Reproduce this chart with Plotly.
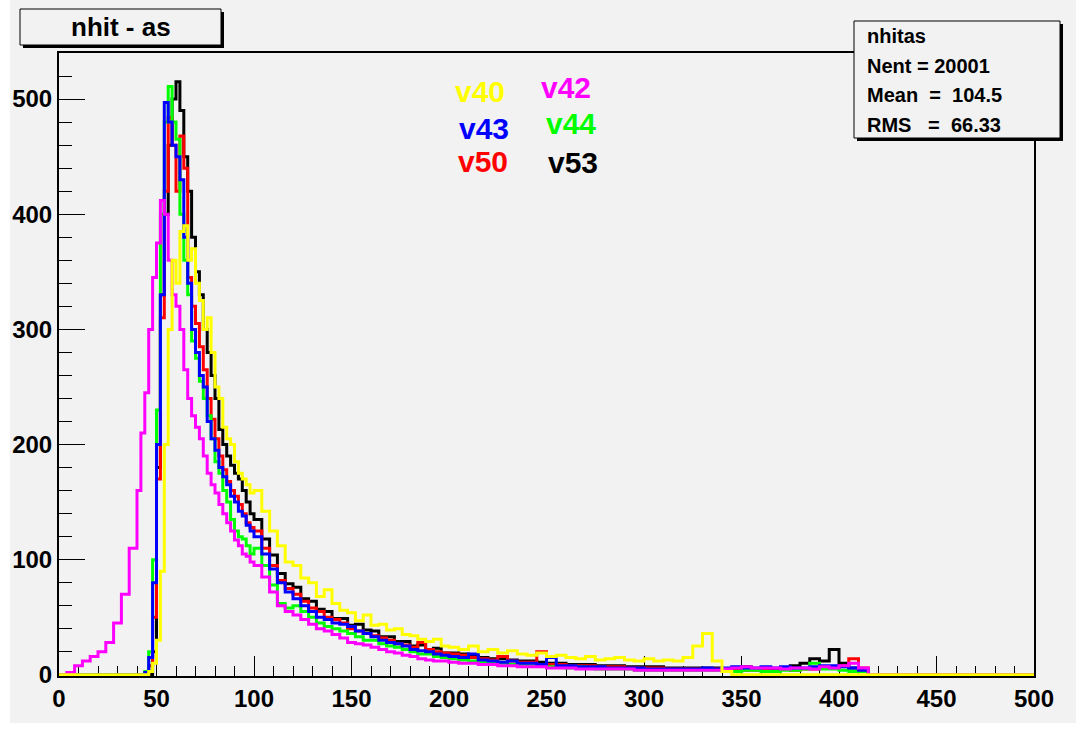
import numpy as np
import plotly.graph_objects as go

# ---------------- data ----------------
# bin edges (variable width histogram binning, x in nhit units)
edges = np.concatenate([
    np.arange(0, 40, 4),     # 10 bins
    np.arange(40, 100, 2),   # 30 bins
    np.arange(100, 200, 4),  # 25 bins
    np.arange(200, 420, 5),  # 44 bins
    [420, 500],              # last empty bin
])

v40 = ([0] * 10
       + [0, 0, 0, 3, 10, 30, 90, 200, 300, 360, 340, 385, 390, 360, 370, 340, 325, 300, 310, 280,
          250, 240, 215, 205, 200, 185, 175, 170, 165, 158]
       + [160, 142, 125, 112, 98, 95, 84, 80, 68, 74, 62, 56, 54, 47, 52, 43, 44, 39, 40, 35,
          34, 31, 29, 31, 25]
       + [24, 22, 25, 20, 22, 19, 21, 18, 17, 19, 16, 17, 15, 14, 16, 13, 14, 15, 13, 12,
          14, 12, 13, 12, 15, 25, 36, 12, 3] + [0] * 15
       + [0])

v42 = ([0, 2, 8, 12, 16, 20, 28, 45, 70, 110]
       + [160, 210, 245, 300, 345, 375, 412, 400, 360, 330, 320, 300, 265, 240, 225, 215, 205, 190, 175, 165,
          158, 148, 140, 132, 125, 117, 112, 105, 103, 98]
       + [95, 85, 72, 60, 55, 52, 48, 44, 40, 38, 35, 32, 28, 27, 26, 24, 22, 20, 19, 17,
          16, 14, 13, 12, 12]
       + [11, 10, 10, 9, 9, 8, 8, 7, 7, 7, 6, 6, 6, 5, 5, 5, 5, 5, 5, 4,
          4, 4, 4, 4, 4, 4, 4, 4, 5, 6, 7, 6, 6, 6, 5, 6, 6, 5, 7, 6,
          8, 10, 6, 0]
       + [0])

v43 = ([0] * 10
       + [0, 0, 2, 15, 80, 200, 330, 497, 480, 460, 450, 430, 380, 340, 300, 280, 260, 250, 220, 205,
          195, 180, 172, 165, 155, 150, 142, 138, 130, 125]
       + [120, 105, 92, 80, 72, 66, 60, 55, 50, 48, 45, 44, 42, 38, 36, 33, 30, 28, 27, 25,
          22, 21, 20, 18, 17]
       + [16, 15, 18, 13, 12, 11, 12, 10, 10, 9, 15, 8, 8, 7, 7, 7, 6, 6, 6, 6,
          5, 5, 5, 5, 5, 5, 6, 5, 6, 7, 6, 6, 7, 6, 7, 6, 6, 7, 8, 8,
          7, 6, 4, 0]
       + [0])

v44 = ([0] * 10
       + [0, 0, 3, 20, 100, 230, 400, 480, 511, 480, 465, 400, 360, 330, 290, 275, 255, 240, 225, 205,
          185, 175, 160, 150, 135, 125, 120, 118, 112, 105]
       + [110, 95, 78, 62, 58, 60, 55, 50, 45, 42, 40, 38, 36, 33, 30, 30, 27, 25, 24, 22,
          20, 18, 18, 16, 15]
       + [14, 13, 12, 11, 10, 10, 9, 9, 8, 8, 7, 7, 6, 7, 6, 5, 5, 5, 5, 4,
          4, 4, 4, 4, 4, 4, 4, 4, 4, 3, 4, 4, 3, 3, 4, 4, 5, 10, 5, 5,
          4, 3, 3, 0]
       + [0])

v50 = ([0] * 10
       + [0, 0, 1, 8, 50, 170, 310, 420, 484, 460, 420, 468, 440, 345, 320, 305, 285, 265, 240, 222,
          205, 190, 178, 168, 160, 155, 148, 140, 132, 128]
       + [125, 110, 95, 82, 75, 70, 64, 58, 55, 50, 48, 45, 40, 38, 36, 34, 32, 30, 27, 26,
          24, 28, 22, 20, 19]
       + [18, 17, 15, 14, 13, 16, 12, 11, 11, 20, 9, 9, 8, 8, 8, 7, 7, 7, 6, 6,
          6, 6, 5, 5, 5, 5, 5, 5, 4, 4, 4, 4, 4, 4, 5, 4, 5, 5, 6, 6,
          8, 14, 6, 0]
       + [0])

v53 = ([0] * 10
       + [0, 0, 0, 0, 20, 180, 330, 400, 460, 500, 515, 490, 450, 420, 380, 350, 330, 300, 280, 260,
          240, 213, 200, 190, 182, 175, 170, 160, 150, 140]
       + [135, 118, 104, 88, 79, 76, 66, 64, 57, 55, 49, 49, 43, 44, 39, 38, 33, 33, 29, 29,
          25, 26, 21, 23, 19]
       + [19, 18, 16, 15, 14, 14, 13, 12, 12, 11, 10, 10, 9, 9, 9, 8, 8, 8, 7, 7,
          7, 7, 6, 6, 6, 6, 6, 6, 5, 5, 7, 5, 6, 5, 6, 8, 10, 14, 12, 22,
          10, 6, 4, 0]
       + [0])

series_names = ["v53", "v50", "v44", "v43", "v42", "v40"]   # drawing order (last on top)
series_vals = [v53, v50, v44, v43, v42, v40]

title_text = "nhit - as"
stats_lines = ["nhitas", "Nent = 20001",
               "Mean\u00a0\u00a0=\u00a0\u00a0104.5",
               "RMS\u00a0\u00a0\u00a0=\u00a0\u00a066.33"]

# ---------------- style ----------------
W, H = 1076, 735
PL, PR, PT, PB = 59, 1034, 53, 676   # plot-area pixel box
BG = "#f2f2f2"
FONT = "Liberation Sans"
colors = {"v40": "#ffff00", "v42": "#ff00ff", "v43": "#0000ff",
          "v44": "#00ff00", "v50": "#ff0000", "v53": "#000000"}


def fx(p):
    return (p - PL) / (PR - PL)


def fy(p):
    return (PB - p) / (PB - PT)


fig = go.Figure()
for name, vals in zip(series_names, series_vals):
    assert len(vals) == len(edges) - 1, (name, len(vals))
    fig.add_trace(go.Scatter(
        x=list(edges), y=list(vals) + [vals[-1]],
        mode="lines", line=dict(color=colors[name], width=3, shape="hv"),
        name=name, hoverinfo="skip"))

shapes = [
    # canvas (white rim at left and bottom)
    dict(type="rect", xref="paper", yref="paper", x0=fx(10), x1=fx(1076), y0=fy(723), y1=fy(0),
         fillcolor=BG, line=dict(width=0), layer="below"),
    # title box with shadow
    dict(type="rect", xref="paper", yref="paper", x0=fx(23), x1=fx(224), y0=fy(48), y1=fy(12),
         fillcolor="black", line=dict(width=0), layer="above"),
    dict(type="rect", xref="paper", yref="paper", x0=fx(20), x1=fx(221), y0=fy(45), y1=fy(9),
         fillcolor=BG, line=dict(width=1, color="black"), layer="above"),
    # stats box with shadow
    dict(type="rect", xref="paper", yref="paper", x0=fx(857), x1=fx(1063), y0=fy(141), y1=fy(24),
         fillcolor="black", line=dict(width=0), layer="above"),
    dict(type="rect", xref="paper", yref="paper", x0=fx(854), x1=fx(1060), y0=fy(138), y1=fy(21),
         fillcolor=BG, line=dict(width=1, color="black"), layer="above"),
]

annotations = [
    dict(text=title_text, xref="paper", yref="paper", x=fx(121), y=fy(27), xanchor="center",
         yanchor="middle", showarrow=False, font=dict(family=FONT, size=26, color="black", weight="bold")),
]
for i, line in enumerate(stats_lines):
    annotations.append(dict(text=line, xref="paper", yref="paper", x=fx(865), y=fy(36 + 29.7 * i),
                            xanchor="left", yanchor="middle", showarrow=False,
                            font=dict(family=FONT, size=20, color="black", weight="bold")))

legend_pos = {"v40": (480, 92), "v42": (566, 87), "v43": (484, 128),
              "v44": (571, 123), "v50": (483, 161), "v53": (573, 162)}
for name, (px, py) in legend_pos.items():
    annotations.append(dict(text=name, xref="paper", yref="paper", x=fx(px), y=fy(py),
                            xanchor="center", yanchor="middle", showarrow=False, borderpad=0,
                            font=dict(family=FONT, size=30, color=colors[name], weight="bold")))

fig.update_layout(
    width=W, height=H,
    margin=dict(l=PL, r=W - PR, t=PT, b=H - PB, pad=0),
    paper_bgcolor="white", plot_bgcolor=BG,
    showlegend=False,
    shapes=shapes, annotations=annotations,
)
fig.update_xaxes(
    range=[0, 500], showgrid=False, zeroline=False,
    showline=True, linecolor="black", linewidth=2, mirror=True,
    ticks="inside", ticklen=20, tickwidth=1, tickcolor="black",
    tick0=0, dtick=50,
    minor=dict(dtick=10, ticks="inside", ticklen=10, tickwidth=1, tickcolor="black"),
    tickfont=dict(family=FONT, size=24, color="black", weight="bold"),
    layer="below traces",
)
fig.update_yaxes(
    range=[-1, 540], showgrid=False, zeroline=False,
    showline=True, linecolor="black", linewidth=2, mirror=True,
    ticks="inside", ticklen=26, tickwidth=1, tickcolor="black",
    tick0=0, dtick=100,
    minor=dict(dtick=20, ticks="inside", ticklen=13, tickwidth=1, tickcolor="black"),
    tickfont=dict(family=FONT, size=24, color="black", weight="bold"),
    layer="below traces",
)

fig.write_html("out.html", config={"displayModeBar": False},
               post_script="document.body.style.margin='0';document.body.style.padding='0';")
